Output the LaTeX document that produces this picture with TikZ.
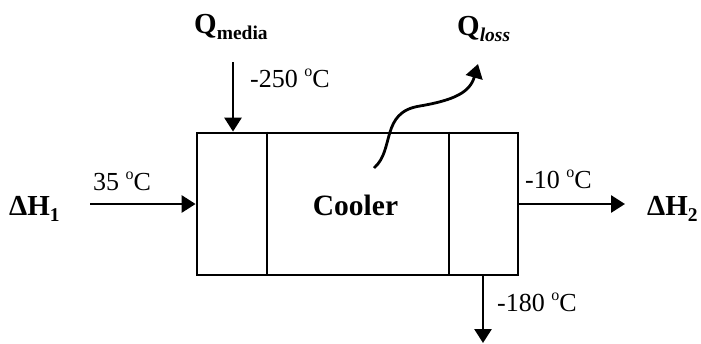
\documentclass[tikz,border=0pt]{standalone}
\usepackage{fontspec}
\setmainfont{Liberation Serif}
\usetikzlibrary{arrows.meta}

\newcommand{\lowtext}[1]{\raisebox{-0.22em}{\fontsize{19.5}{19.5}\selectfont #1}}
\newcommand{\degc}{ \raisebox{0.42em}{\fontsize{16}{16}\selectfont o}C}

\tikzset{
  unit/.style={draw,line width=2.8pt,minimum width=321pt,minimum height=142pt,inner sep=0pt},
  divider/.style={line width=2pt},
  flow/.style={line width=2.8pt,-{Triangle[length=14pt,width=17pt]}},
  temp/.style={inner sep=0pt,font=\fontsize{26}{30}\selectfont},
  big/.style={inner sep=0pt,font=\fontsize{29}{33}\selectfont\bfseries},
}

\begin{document}
\begin{tikzpicture}[x=1pt,y=-1pt]
\path[use as bounding box] (0,0) rectangle (701,343);
% cooler with its three sections
\node[unit] (cooler) at (357.5,204) {};
\draw[divider] ([xshift=71pt]cooler.north west) -- ([xshift=71pt]cooler.south west);
\draw[divider] ([xshift=-70pt]cooler.north east) -- ([xshift=-70pt]cooler.south east);
\node[big,font=\fontsize{29.5}{34}\selectfont\bfseries,anchor=base] (name) at (355.5,215) {Cooler};
% streams
\node[big,anchor=base west] (h1) at (9,215) {ΔH\lowtext{1}};
\coordinate (feed) at (90,204);
\draw[flow] (feed) -- (cooler.west);
\node[temp,anchor=base west] (t1) at (93,190) {35\degc};
\coordinate (out) at (625,204);
\draw[flow] (cooler.east) -- (out);
\node[big,anchor=base west] (h2) at (647,215) {ΔH\lowtext{2}};
\node[temp,anchor=base west] (t2) at (525,188) {-10\degc};
% cooling media
\node[big,anchor=base west] (qm) at (194,33) {Q\lowtext{media}};
\coordinate (mtop) at (233,62);
\draw[flow] (mtop) -- (mtop |- cooler.north);
\node[temp,anchor=base west] (t3) at (250,87) {-250\degc};
\coordinate (mbot) at (483,343);
\draw[flow] (mbot |- cooler.south) -- (mbot);
\node[temp,anchor=base west] (t4) at (497,311) {-180\degc};
% heat loss
\coordinate (lstart) at (374,168);
\coordinate (ltip) at (478,64);
\draw[flow] (lstart) .. controls (395,150) and (380,112) .. (420,106) .. controls (455,100) and (470,92) .. (ltip);
\node[big,anchor=base west] (ql) at (457,35) {Q\lowtext{\itshape loss}};
\end{tikzpicture}
\end{document}
